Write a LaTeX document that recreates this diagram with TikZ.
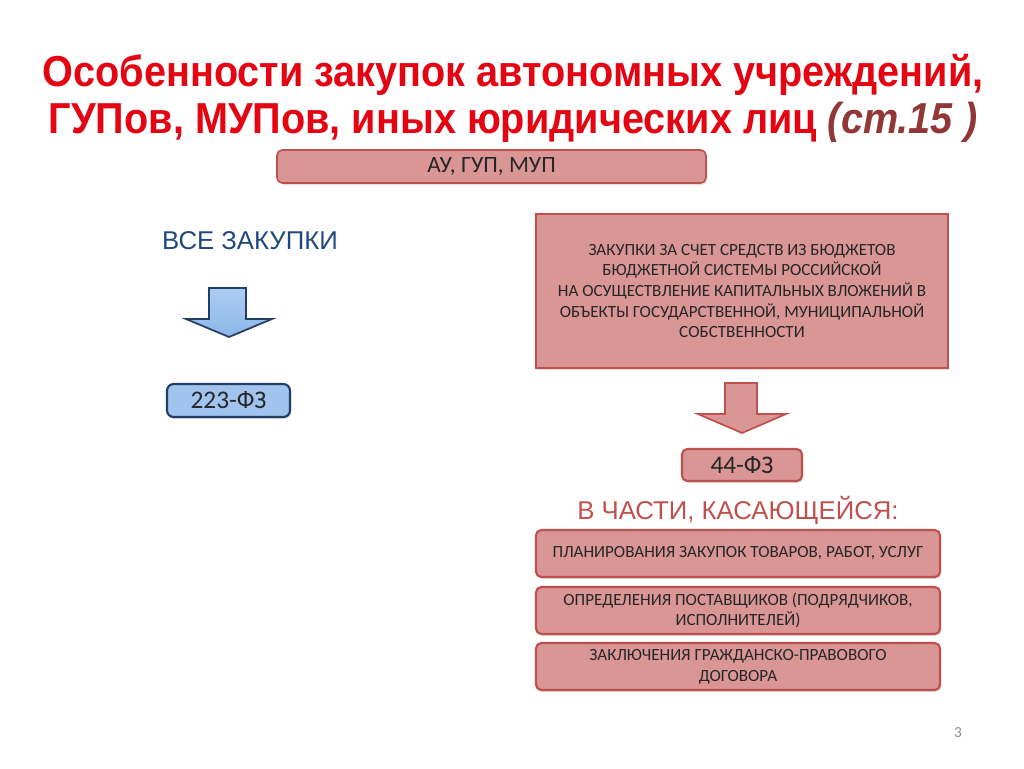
\documentclass[tikz,border=0pt]{standalone}
\usepackage{fontspec}
\setmainfont{Carlito}
\newfontfamily\titlefont[FakeStretch=0.915]{Liberation Sans}
\newfontfamily\arialfont{Liberation Sans}
\usetikzlibrary{shadows}
\definecolor{titlered}{RGB}{228,4,18}
\definecolor{stred}{RGB}{145,55,55}
\definecolor{boxfill}{RGB}{217,150,149}
\definecolor{boxedge}{RGB}{192,80,77}
\definecolor{bluetop}{RGB}{172,205,242}
\definecolor{bluebot}{RGB}{140,182,232}
\definecolor{bluefill}{RGB}{160,196,238}
\definecolor{blueedge}{RGB}{35,62,100}
\definecolor{bluetext}{RGB}{31,73,125}
\definecolor{pagegray}{RGB}{140,140,140}
\tikzset{
  redbox/.style={draw=boxedge, line width=1.6pt, fill=boxfill, rounded corners=4pt,
    drop shadow={opacity=0.25, shadow xshift=1pt, shadow yshift=-1.5pt},
    align=center, inner sep=0pt, font=\fontsize{12.8}{15.5}\selectfont, text=black!85},
  bluebox/.style={draw=blueedge, line width=1.6pt, fill=bluefill, rounded corners=5pt,
    drop shadow={opacity=0.25, shadow xshift=1pt, shadow yshift=-1.5pt},
    inner sep=0pt, font=\fontsize{19}{22}\selectfont, text=black!85},
  blockarrow/.style={line width=1.3pt, line join=miter}
}
\begin{document}
\begin{tikzpicture}[x=0.75pt,y=-0.75pt]
\useasboundingbox (0,0) rectangle (1024,768);
% title
\node[text=titlered, font=\titlefont\bfseries\fontsize{32.5}{36}\selectfont] (t1) at (513,75) {Особенности закупок автономных учреждений,};
\node[text=titlered, font=\titlefont\bfseries\fontsize{32.5}{36}\selectfont] (t2) at (513,122) {ГУПов, МУПов, иных юридических лиц \textcolor{stred}{\itshape (ст.15 )}};
% top box
\node[redbox, minimum width=429*0.75pt, minimum height=33*0.75pt, font=\fontsize{17.5}{20}\selectfont, line width=1.2pt] (au) at (491.5,166.5) {АУ, ГУП, МУП};
% left column
\node[text=bluetext, font=\arialfont\fontsize{19.3}{23}\selectfont] (all) at (250,241) {ВСЕ ЗАКУПКИ};
\draw[blockarrow, draw=blueedge, top color=bluetop, bottom color=bluebot]
  (209,288) -- (246,288) -- (246,319) -- (272,319) -- (229,337) -- (186,319) -- (209,319) -- cycle;
\node[bluebox, minimum width=123*0.75pt, minimum height=33*0.75pt] (f223) at (228.5,400.5) {223-ФЗ};
% right column
\node[redbox, rounded corners=0pt, minimum width=412*0.75pt, minimum height=154*0.75pt] (big) at (742,291)
  {ЗАКУПКИ ЗА СЧЕТ СРЕДСТВ ИЗ БЮДЖЕТОВ\\БЮДЖЕТНОЙ СИСТЕМЫ РОССИЙСКОЙ\\НА ОСУЩЕСТВЛЕНИЕ КАПИТАЛЬНЫХ ВЛОЖЕНИЙ В\\ОБЪЕКТЫ ГОСУДАРСТВЕННОЙ, МУНИЦИПАЛЬНОЙ\\СОБСТВЕННОСТИ};
\draw[blockarrow, draw=boxedge, fill=boxfill]
  (725,383) -- (757,383) -- (757,414) -- (786,414) -- (742,433) -- (698,414) -- (725,414) -- cycle;
\node[redbox, minimum width=120*0.75pt, minimum height=32*0.75pt, font=\fontsize{19}{22}\selectfont] (f44) at (742,465) {44-ФЗ};
\node[text=boxedge, font=\arialfont\fontsize{19.3}{23}\selectfont] (part) at (738,510) {В ЧАСТИ, КАСАЮЩЕЙСЯ:};
\node[redbox, minimum width=404*0.75pt, minimum height=47*0.75pt] (b1) at (738,553.5) {ПЛАНИРОВАНИЯ ЗАКУПОК ТОВАРОВ, РАБОТ, УСЛУГ};
\node[redbox, minimum width=404*0.75pt, minimum height=47*0.75pt] (b2) at (738,610.5) {ОПРЕДЕЛЕНИЯ ПОСТАВЩИКОВ (ПОДРЯДЧИКОВ,\\ИСПОЛНИТЕЛЕЙ)};
\node[redbox, minimum width=404*0.75pt, minimum height=47*0.75pt] (b3) at (738,666.5) {ЗАКЛЮЧЕНИЯ ГРАЖДАНСКО-ПРАВОВОГО\\ДОГОВОРА};
% page number
\node[text=pagegray, font=\fontsize{11.5}{13}\selectfont] (pg) at (958,733) {3};
\end{tikzpicture}
\end{document}
